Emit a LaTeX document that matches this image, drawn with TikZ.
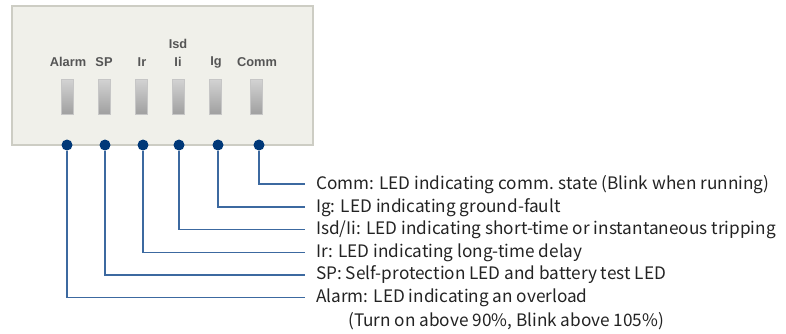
\documentclass[tikz,border=0pt]{standalone}
\usepackage{fontspec}
\setmainfont{Noto Sans CJK KR}
\newfontfamily\ledfont{Liberation Sans}
\definecolor{panelfill}{RGB}{240,240,234}
\definecolor{paneledge}{RGB}{205,205,196}
\definecolor{dotblue}{RGB}{0,56,120}
\definecolor{lineblue}{RGB}{60,105,160}
\definecolor{ledtext}{RGB}{85,85,85}
\definecolor{desctext}{RGB}{35,35,35}
\tikzset{
  panel/.style={fill=panelfill,draw=paneledge,line width=1.2pt},
  led/.style={draw=gray!45,line width=0.8pt,top color=gray!35,bottom color=gray!75,minimum width=12pt,minimum height=35pt,inner sep=0pt},
  ledlabel/.style={font=\ledfont\bfseries\fontsize{12.8}{14}\selectfont,text=ledtext,inner sep=0pt,align=center},
  pin/.style={circle,fill=dotblue,minimum size=11pt,inner sep=0pt},
  desc/.style={font=\fontsize{17.2}{20}\selectfont,text=desctext,anchor=west,inner xsep=0pt},
  conn/.style={draw=lineblue,line width=1.2pt}
}
\begin{document}
\begin{tikzpicture}[x=1pt,y=-1pt]
\useasboundingbox (0,0) rectangle (786,333);
\draw[panel] (12,6) rectangle (313,145);
% LEDs
\node[led] (lA) at (67.5,97) {};
\node[led] (lS) at (104.5,97) {};
\node[led] (lR) at (141.5,97) {};
\node[led] (lI) at (178,97) {};
\node[led] (lG) at (215.7,97) {};
\node[led] (lC) at (256.7,97) {};
% LED labels
\node[ledlabel] (nA) at (68,62) {Alarm};
\node[ledlabel] (nS) at (104,62) {SP};
\node[ledlabel] (nR) at (142,62) {Ir};
\node[ledlabel] (nI2) at (178,44) {Isd};
\node[ledlabel] (nI) at (178,62) {Ii};
\node[ledlabel] (nG) at (216,62) {Ig};
\node[ledlabel] (nC) at (257,62) {Comm};
% descriptions
\node[desc] (tC) at (316,185) {Comm: LED indicating comm. state (Blink when running)};
\node[desc] (tG) at (316,207.5) {Ig: LED indicating ground-fault};
\node[desc] (tI) at (316,230) {Isd/Ii: LED indicating short-time or instantaneous tripping};
\node[desc] (tR) at (316,252.5) {Ir: LED indicating long-time delay};
\node[desc] (tS) at (316,275) {SP: Self-protection LED and battery test LED};
\node[desc] (tA) at (316,297.5) {Alarm: LED indicating an overload};
\node[desc] (tA2) at (348,321) {(Turn on above 90\%, Blink above 105\%)};
% connectors
\coordinate (eC) at (305,184);
\coordinate (eG) at (305,207);
\coordinate (eI) at (305,229.5);
\coordinate (eR) at (305,252.5);
\coordinate (eS) at (305,275);
\coordinate (eA) at (305,297.5);
\node[pin] (dA) at (67,145) {};
\node[pin] (dS) at (105,145) {};
\node[pin] (dR) at (143,145) {};
\node[pin] (dI) at (179,145) {};
\node[pin] (dG) at (218,145) {};
\node[pin] (dC) at (259,145) {};
\draw[conn] (dA) |- (eA);
\draw[conn] (dS) |- (eS);
\draw[conn] (dR) |- (eR);
\draw[conn] (dI) |- (eI);
\draw[conn] (dG) |- (eG);
\draw[conn] (dC) |- (eC);
\end{tikzpicture}
\end{document}
